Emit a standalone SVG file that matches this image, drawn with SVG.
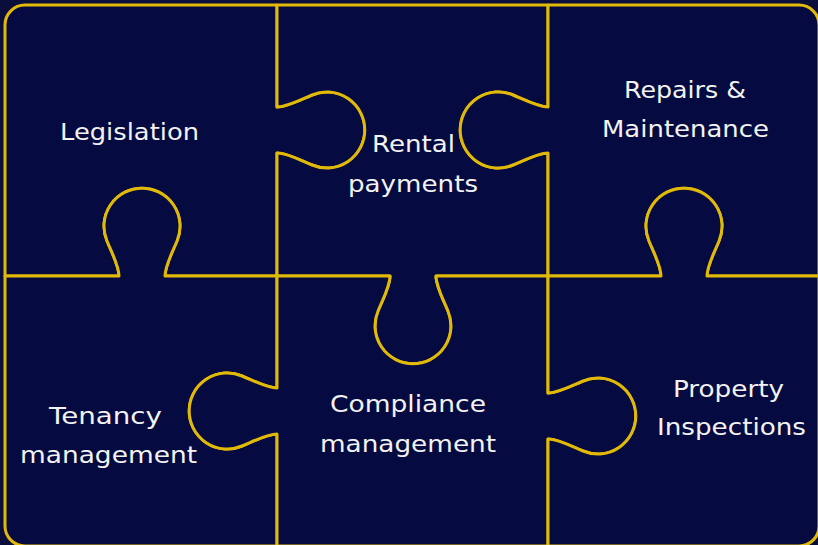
<svg xmlns="http://www.w3.org/2000/svg" width="818" height="545" viewBox="0 0 818 545">
<style>
.pc{fill:#050a40;stroke:#e1b907;stroke-width:3;stroke-linejoin:round}
.lb{font-family:"DejaVu Sans","Noto Sans","Liberation Sans",sans-serif;font-size:23.5px;fill:#f2f2f2;text-anchor:middle}
</style>
<rect width="818" height="545" fill="#0b0d3b"/>
<g id="legislation">
<path class="pc" d="M5,25 A20,20 0 0 1 25,5 L277,5 L277,107 C287,107 300,100 312,95 A38,38 0 1 1 312,165 C300,160 287,153 277,153 L277,276 L165,276 C165,266 172,253 177,241 A38,38 0 1 0 107,241 C112,253 119,266 119,276 L5,276 Z"/>
<text class="lb" x="129.5" y="140" textLength="139" lengthAdjust="spacingAndGlyphs">Legislation</text>
</g>
<g id="rental-payments">
<path class="pc" d="M277,5 L548,5 L548,107 C538,107 525,100 513,95 A38,38 0 1 0 513,165 C525,160 538,153 548,153 L548,276 L436,276 C436,286 443,299 448,311 A38,38 0 1 1 378,311 C383,299 390,286 390,276 L277,276 L277,153 C287,153 300,160 312,165 A38,38 0 1 0 312,95 C300,100 287,107 277,107 Z"/>
<text class="lb" x="413.5" y="152" textLength="83" lengthAdjust="spacingAndGlyphs">Rental</text>
<text class="lb" x="413" y="192" textLength="130" lengthAdjust="spacingAndGlyphs">payments</text>
</g>
<g id="repairs-maintenance">
<path class="pc" d="M548,5 L799,5 A20,20 0 0 1 819,25 L819,276 L707,276 C707,266 714,253 719,241 A38,38 0 1 0 649,241 C654,253 661,266 661,276 L548,276 L548,153 C538,153 525,160 513,165 A38,38 0 1 1 513,95 C525,100 538,107 548,107 Z"/>
<text class="lb" x="685" y="98" textLength="122" lengthAdjust="spacingAndGlyphs">Repairs &amp;</text>
<text class="lb" x="685.5" y="137" textLength="167" lengthAdjust="spacingAndGlyphs">Maintenance</text>
</g>
<g id="tenancy-management">
<path class="pc" d="M5,276 L119,276 C119,266 112,253 107,241 A38,38 0 1 1 177,241 C172,253 165,266 165,276 L277,276 L277,388 C267,388 254,381 242,376 A38,38 0 1 0 242,446 C254,441 267,434 277,434 L277,546 L25,546 A20,20 0 0 1 5,526 Z"/>
<text class="lb" x="105.5" y="424" textLength="113" lengthAdjust="spacingAndGlyphs">Tenancy</text>
<text class="lb" x="108.5" y="463" textLength="177" lengthAdjust="spacingAndGlyphs">management</text>
</g>
<g id="compliance-management">
<path class="pc" d="M277,276 L390,276 C390,286 383,299 378,311 A38,38 0 1 0 448,311 C443,299 436,286 436,276 L548,276 L548,393 C558,393 571,386 583,381 A38,38 0 1 1 583,451 C571,446 558,439 548,439 L548,546 L277,546 L277,434 C267,434 254,441 242,446 A38,38 0 1 1 242,376 C254,381 267,388 277,388 Z"/>
<text class="lb" x="408" y="412" textLength="156" lengthAdjust="spacingAndGlyphs">Compliance</text>
<text class="lb" x="408" y="452" textLength="176" lengthAdjust="spacingAndGlyphs">management</text>
</g>
<g id="property-inspections">
<path class="pc" d="M548,276 L661,276 C661,266 654,253 649,241 A38,38 0 1 1 719,241 C714,253 707,266 707,276 L819,276 L819,526 A20,20 0 0 1 799,546 L548,546 L548,439 C558,439 571,446 583,451 A38,38 0 1 0 583,381 C571,386 558,393 548,393 Z"/>
<text class="lb" x="728.5" y="397" textLength="111" lengthAdjust="spacingAndGlyphs">Property</text>
<text class="lb" x="731.5" y="435" textLength="149" lengthAdjust="spacingAndGlyphs">Inspections</text>
</g>
<g id="connectors"/>
</svg>
